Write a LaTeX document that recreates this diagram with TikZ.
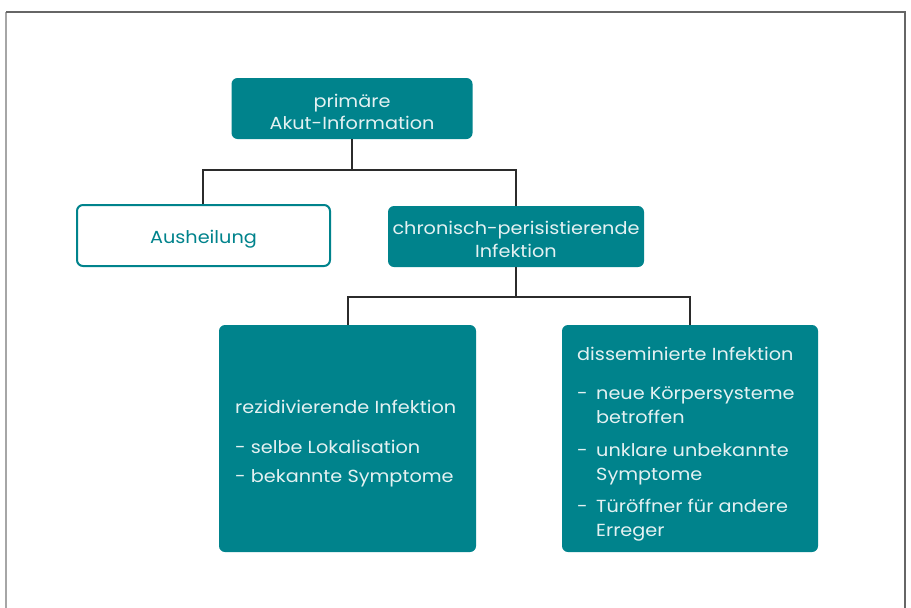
\documentclass[tikz,border=0pt]{standalone}
\usepackage{fontspec}
\setmainfont{Poppins}[FakeStretch=1.1]
\definecolor{tealbox}{HTML}{00838C}
\definecolor{tealtext}{HTML}{E4F1F2}
\definecolor{linecol}{HTML}{2B2B2B}
\begin{document}
\begin{tikzpicture}[x=1pt,y=-1pt,
  fillbox/.style={draw=none,fill=tealbox,rounded corners=6pt,inner sep=0pt},
  openbox/.style={draw=tealbox,line width=2pt,fill=white,rounded corners=6pt,inner sep=0pt},
  ctxt/.style={inner sep=0pt,align=center,text=tealtext,font=\fontsize{17.5}{22.5}\selectfont},
  txt/.style={anchor=base west,inner sep=0pt,text=tealtext,font=\fontsize{17.5}{22}\selectfont},
  conn/.style={draw=linecol,line width=1.6pt},
  frameline/.style={line width=1.5pt}]
\useasboundingbox (0,0) rectangle (911,608);
% frame
\draw[frameline,draw=gray!70] (6,608) -- (6,12);
\draw[frameline,draw=black!60] (6,12) -- (905,12) -- (905,608);
% boxes
\node[fillbox,minimum width=241pt,minimum height=61pt] (top) at (352,108.5) {};
\node[openbox,minimum width=253pt,minimum height=61pt] (aus) at (203.5,235.5) {};
\node[fillbox,minimum width=256pt,minimum height=61pt] (chr) at (516,236.5) {};
\node[fillbox,minimum width=257pt,minimum height=227pt] (rez) at (347.5,438.5) {};
\node[fillbox,minimum width=256pt,minimum height=227pt] (dis) at (690,438.5) {};
% box texts
\node[ctxt] (topt) at (352,112) {primäre\\Akut-Information};
\node[ctxt,text=tealbox] (aust) at (203.5,239) {Ausheilung};
\node[ctxt] (chrt) at (516,239.5) {chronisch-perisistierende\\Infektion};
% connectors
\coordinate (j1) at (352,170);
\coordinate (j2) at (516,297);
\draw[conn] (top.south) -- (j1);
\draw[conn] (aus.north -| 203,0) |- (j1) -| (chr.north);
\draw[conn] (chr.south) -- (j2);
\draw[conn] (rez.north -| 348,0) |- (j2) -| (dis.north);
% text left bottom
\node[txt] (r1) at (235,413) {rezidivierende Infektion};
\node[txt] (r2) at (235,453) {- selbe Lokalisation};
\node[txt] (r3) at (235,482) {- bekannte Symptome};
% text right bottom
\node[txt] (d0) at (577,360) {disseminierte Infektion};
\node[txt] (b1) at (577,399) {-};
\node[txt] (d1) at (596,399) {neue Körpersysteme};
\node[txt] (d1b) at (596,423) {betroffen};
\node[txt] (b2) at (577,456) {-};
\node[txt] (d2) at (596,456) {unklare unbekannte};
\node[txt] (d2b) at (596,480) {Symptome};
\node[txt] (b3) at (577,512) {-};
\node[txt] (d3) at (596,512) {Türöffner für andere};
\node[txt] (d3b) at (596,536) {Erreger};
\end{tikzpicture}
\end{document}
